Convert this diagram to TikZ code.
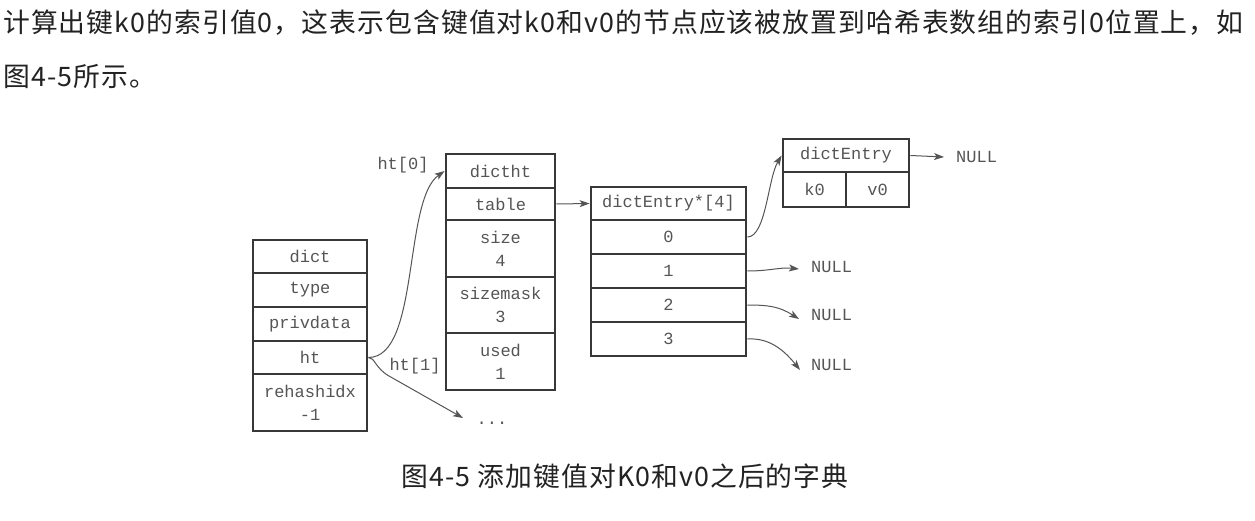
\documentclass[tikz,border=0pt]{standalone}
\usepackage{fontspec}
\setmonofont{Liberation Mono}
\newfontfamily\cjk[LetterSpace=4]{Noto Sans CJK SC}
\usetikzlibrary{arrows.meta}
\definecolor{boxc}{HTML}{383838}
\definecolor{txtc}{HTML}{555555}
\definecolor{arrc}{HTML}{555555}
\definecolor{cjkc}{HTML}{222222}
\tikzset{
  cell/.style={draw=boxc, line width=2.8pt, rectangle, inner sep=0pt, text=txtc,
    font=\ttfamily\fontsize{17}{23}\selectfont, align=center},
  lbl/.style={inner sep=0pt, text=txtc, font=\ttfamily\fontsize{17}{23}\selectfont},
  conn/.style={draw=arrc, line width=1pt, -{Stealth[length=10pt,width=7pt,inset=2.5pt]}},
  cjktext/.style={inner sep=0pt, text=cjkc, font=\cjk\fontsize{26.8}{30}\selectfont}
}
\begin{document}
\begin{tikzpicture}[x=1pt,y=-1pt]
\useasboundingbox[fill=white] (0,0) rectangle (1255,521);

% top text
\node[cjktext, anchor=west] (l1) at (3,23) {计算出键k0的索引值0，这表示包含键值对k0和v0的节点应该被放置到哈希表数组的索引0位置上，如};
\node[cjktext, anchor=west] (l2) at (3,77) {图4-5所示。};

% dict
\node[cell, minimum width=114pt, minimum height=33pt] (dict) at (310,256.5) {dict};
\node[cell, minimum width=114pt, minimum height=34pt] (type) at (310,290) {type};
\node[cell, minimum width=114pt, minimum height=34pt] (priv) at (310,324) {privdata};
\node[cell, minimum width=114pt, minimum height=33pt] (ht) at (310,357.5) {ht};
\node[cell, minimum width=114pt, minimum height=57pt] (rehash) at (310,402.5) {rehashidx\\-1};

% dictht
\node[cell, minimum width=109pt, minimum height=34pt] (dictht) at (500.5,171) {dictht};
\node[cell, minimum width=109pt, minimum height=32pt] (table) at (500.5,204) {table};
\node[cell, minimum width=109pt, minimum height=57pt] (size) at (500.5,248.5) {size\\4};
\node[cell, minimum width=109pt, minimum height=56pt] (mask) at (500.5,305) {sizemask\\3};
\node[cell, minimum width=109pt, minimum height=57pt] (used) at (500.5,361.5) {used\\1};

% dictEntry*[4]
\node[cell, minimum width=155pt, minimum height=33pt] (arr) at (668.5,203.5) {dictEntry*[4]};
\node[cell, minimum width=155pt, minimum height=34pt] (e0) at (668.5,237) {0};
\node[cell, minimum width=155pt, minimum height=34pt] (e1) at (668.5,271) {1};
\node[cell, minimum width=155pt, minimum height=34pt] (e2) at (668.5,305) {2};
\node[cell, minimum width=155pt, minimum height=34pt] (e3) at (668.5,339) {3};

% dictEntry
\node[cell, minimum width=126pt, minimum height=33pt] (de) at (846,155.5) {dictEntry};
\node[cell, minimum width=63pt, minimum height=35pt] (k0) at (814.5,189.5) {k0};
\node[cell, minimum width=63pt, minimum height=35pt] (v0) at (877.5,189.5) {v0};

% labels
\node[lbl] (ht0) at (403,165) {ht[0]};
\node[lbl] (ht1) at (415,366) {ht[1]};
\node[lbl] (dots) at (492,423) {...};
\node[lbl, anchor=west] (n0) at (956,157) {NULL};
\node[lbl, anchor=west] (n1) at (811,267) {NULL};
\node[lbl, anchor=west] (n2) at (811,315) {NULL};
\node[lbl, anchor=west] (n3) at (811,365) {NULL};

\coordinate (d0) at (463,418);
\coordinate (b1) at (389,376);

% connectors
\draw[conn] (ht.east) .. controls (420,357.5) and (403,200) .. (dictht.west);
\draw[conn] (ht.east) .. controls (375,357.5) and (375,368) .. (b1) -- (d0);
\draw[conn] (table.east) -- (arr.west);
\draw[conn] (e0.east) .. controls (766,237) and (768,178) .. (de.west);
\draw[conn] (de.east) -- ([xshift=-12pt]n0.west);
\draw[conn] (e1.east) .. controls (770,271) and (780,267) .. ([xshift=-12pt,yshift=-2pt]n1.west);
\draw[conn] (e2.east) .. controls (770,305) and (780,307) .. ([xshift=-12pt,yshift=-4pt]n2.west);
\draw[conn] (e3.east) .. controls (765,338) and (780,345) .. ([xshift=-11pt,yshift=-5pt]n3.west);

% caption
\node[cjktext] (cap) at (625,476) {图4-5 添加键值对K0和v0之后的字典};
\end{tikzpicture}
\end{document}
